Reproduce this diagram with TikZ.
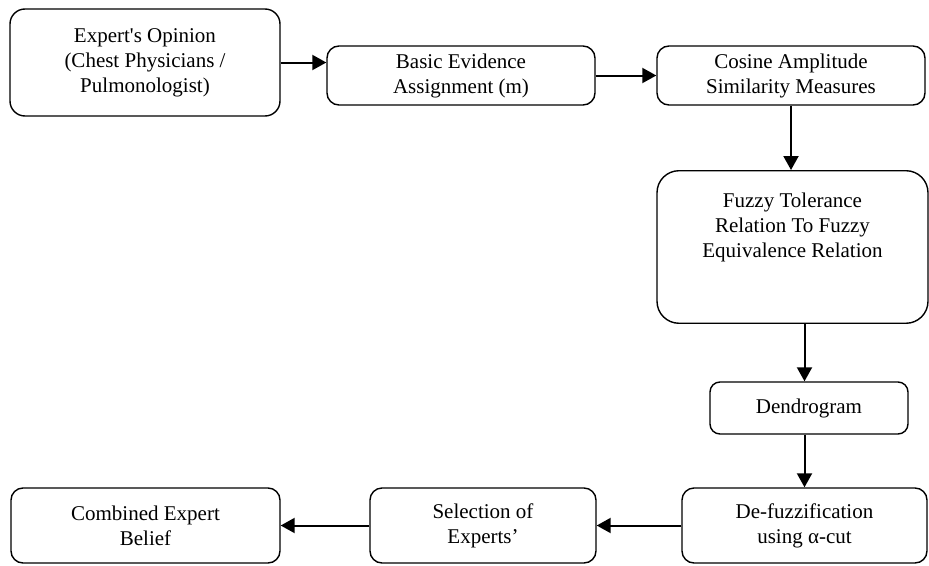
\documentclass[tikz,border=0pt]{standalone}
\usepackage{fontspec}
\setmainfont{Liberation Serif}
\usetikzlibrary{positioning,arrows.meta}

\begin{document}
\begin{tikzpicture}[x=1pt, y=-1pt, -{Triangle[length=14pt,width=15pt]}, line width=2pt, block/.style={rectangle, rounded corners=12pt, draw, line width=1.4pt, align=center, inner sep=0pt, font=\fontsize{21}{25}\selectfont}]
		\useasboundingbox (0,0) rectangle (929,565);
		\node[block, rounded corners=15pt, minimum width=270pt, minimum height=107pt] (A) at (145,62.5) {Expert\textquotesingle s Opinion\\(Chest Physicians /\\Pulmonologist)};
		\node[block, minimum width=268pt, minimum height=59pt] (B) at (461,75.5) {Basic Evidence\\Assignment (m)};
		\node[block, minimum width=268pt, minimum height=59pt] (C) at (791,75.5) {Cosine Amplitude\\Similarity Measures};
		\node[block, rounded corners=22pt, minimum width=271pt, inner ysep=22pt, text depth=44pt, anchor=north] (D) at (792.5,170) {Fuzzy Tolerance\\Relation To Fuzzy\\Equivalence Relation};
		\node[block, rounded corners=10pt, minimum width=198pt, minimum height=52pt] (E) at (809,408) {Dendrogram};
		\node[block, minimum width=245pt, minimum height=75pt] (F) at (804.5,525.5) {De-fuzzification\\using α-cut};
		\node[block, minimum width=226pt, minimum height=75pt] (G) at (483,525.5) {Selection of\\Experts’};
		\node[block, minimum width=269pt, minimum height=75pt] (H) at (145.5,525.5) {Combined Expert\\Belief};
		\draw (A.east) -- (A.east -| B.west);
		\draw (B) -- (C);
		\draw (C) -- (C |- D.north);
		\draw (F |- D.south) -- (F |- E.north);
		\draw (F |- E.south) -- (F);
		\draw (F) -- (G);
		\draw (G) -- (H);
	\end{tikzpicture}
\end{document}
